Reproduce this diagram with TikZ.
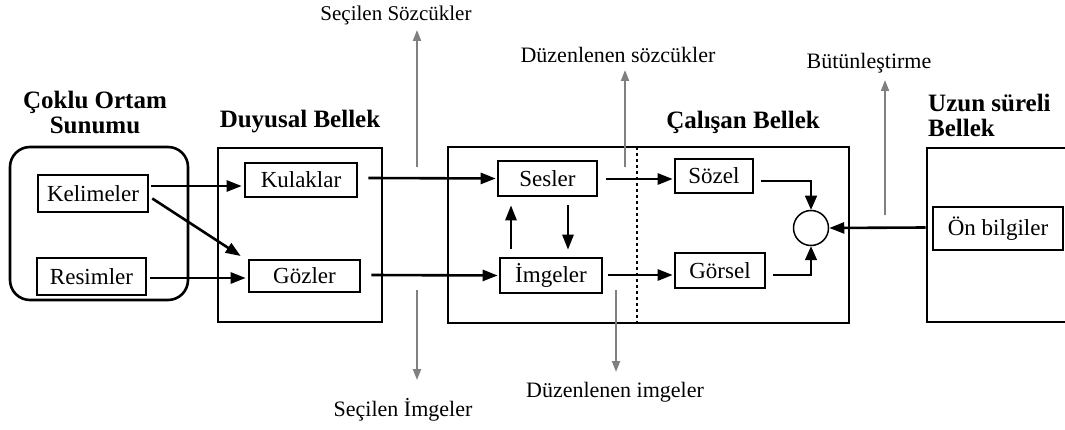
\documentclass[tikz,border=0pt]{standalone}
\usepackage{fontspec}
\setmainfont{Liberation Serif}
\usetikzlibrary{arrows.meta,calc}
\begin{document}
\begin{tikzpicture}[x=1pt,y=-1pt,
  frame/.style={draw,line width=2.6pt},
  item/.style={draw,line width=2.6pt,inner sep=0pt,font=\fontsize{23}{26}\selectfont},
  title/.style={font=\fontsize{25}{28}\selectfont\bfseries,align=center,inner sep=0pt},
  note/.style={font=\fontsize{22}{25}\selectfont,inner sep=1pt},
  flow/.style={line width=2.6pt,-{Triangle[length=15pt,width=11pt]}},
  thinflow/.style={line width=1.5pt,-{Triangle[length=14pt,width=12pt]}},
  side/.style={line width=2pt,draw=black!50,-{Triangle[length=11pt,width=8pt]}}]
\clip (0,0) rectangle (1065,430);
\fill[white] (0,0) rectangle (1065,430);

% outer stores
\draw[frame,rounded corners=20pt] (10,147) rectangle (188,300);
\draw[frame] (218,148) rectangle (382,322);
\draw[frame] (448,147) rectangle (849,323);
\draw[frame] (927,148) rectangle (1090,322);
\draw[line width=1.2pt,dashed] (637,147) -- (637,323);

% store titles
\node[title] (tcok) at (95,112) {Çoklu Ortam\\[-3pt]Sunumu};
\node[title] (tduy) at (300,122) {Duyusal Bellek};
\node[title] (tcal) at (743,122) {Çalışan Bellek};
\node[title,align=left,anchor=west] (tuzu) at (928,115) {Uzun süreli\\[-3pt]Bellek};

% inner items
\node[item,minimum width=110pt,minimum height=37pt] (kel) at (93,193.5) {Kelimeler};
\node[item,minimum width=109pt,minimum height=37pt] (res) at (91.5,276.5) {Resimler};
\node[item,minimum width=112pt,minimum height=34pt] (kul) at (301,180) {Kulaklar};
\node[item,minimum width=111pt,minimum height=32pt] (goz) at (304.5,276) {Gözler};
\node[item,minimum width=99pt,minimum height=35pt] (ses) at (547.5,178.5) {Sesler};
\node[item,minimum width=102pt,minimum height=35pt] (img) at (551,275.5) {İmgeler};
\node[item,minimum width=78pt,minimum height=34pt] (soz) at (714,176) {Sözel};
\node[item,minimum width=90pt,minimum height=35pt] (gor) at (720,270.5) {Görsel};
\node[item,minimum width=130pt,minimum height=43pt] (onb) at (998,228.5) {Ön bilgiler};
\node[draw,circle,line width=1.5pt,minimum size=35pt,inner sep=0pt] (cir) at (811,228) {};

% main flow
\draw[flow] ($(kel.east)+(2,-7.5)$) -- ($(kul.west)+(-2,6)$);
\draw[flow] ($(kel.east)+(3,5)$) -- ($(goz.west)+(-7,-20)$);
\draw[flow] ($(res.east)+(3,1.5)$) -- ($(goz.west)+(-2,2)$);
\draw[flow] ($(kul.east)+(10,-2)$) -- ($(ses.west)+(-1,0)$);
\draw[flow] ($(goz.east)+(10,-1)$) -- ($(img.west)+(-1,0)$);
\draw[flow] ($(ses.east)+(8,0.5)$) -- ($(soz.west)+(-1,3)$);
\draw[flow] ($(img.east)+(5,-0.5)$) -- ($(gor.west)+(-1,4.5)$);
\draw[flow] ($(img.north)+(-40,-8)$) -- ($(ses.south)+(-36.5,8)$);
\draw[flow] ($(ses.south)+(20.5,8)$) -- ($(img.north)+(17,-7)$);
\draw[thinflow] ($(soz.east)+(7,5)$) -| (cir.north);
\draw[thinflow] ($(gor.east)+(7,4.5)$) -| (cir.south);
\draw[flow] ($(onb.west)+(-6,-1)$) -- (cir.east);

% side outputs
\node[note,font=\fontsize{21}{24}\selectfont] (ssoz) at (396,15) {Seçilen Sözcükler};
\node[note] (simg) at (403,410) {Seçilen İmgeler};
\node[note] (dsoz) at (618,55) {Düzenlenen sözcükler};
\node[note] (dimg) at (615,392) {Düzenlenen imgeler};
\node[note] (but) at (869,63) {Bütünleştirme};
\coordinate (c1) at (417,167);
\coordinate (c2) at (417,290);
\coordinate (c3) at (625,167);
\coordinate (c4) at (616,290);
\coordinate (c5) at (885,215);
\draw[side] (c1) -- (417,30);
\draw[side] (c2) -- (417,380);
\draw[side] (c3) -- (625,70);
\draw[side] (c4) -- (616,372);
\draw[side] (c5) -- (885,80);
\end{tikzpicture}
\end{document}
